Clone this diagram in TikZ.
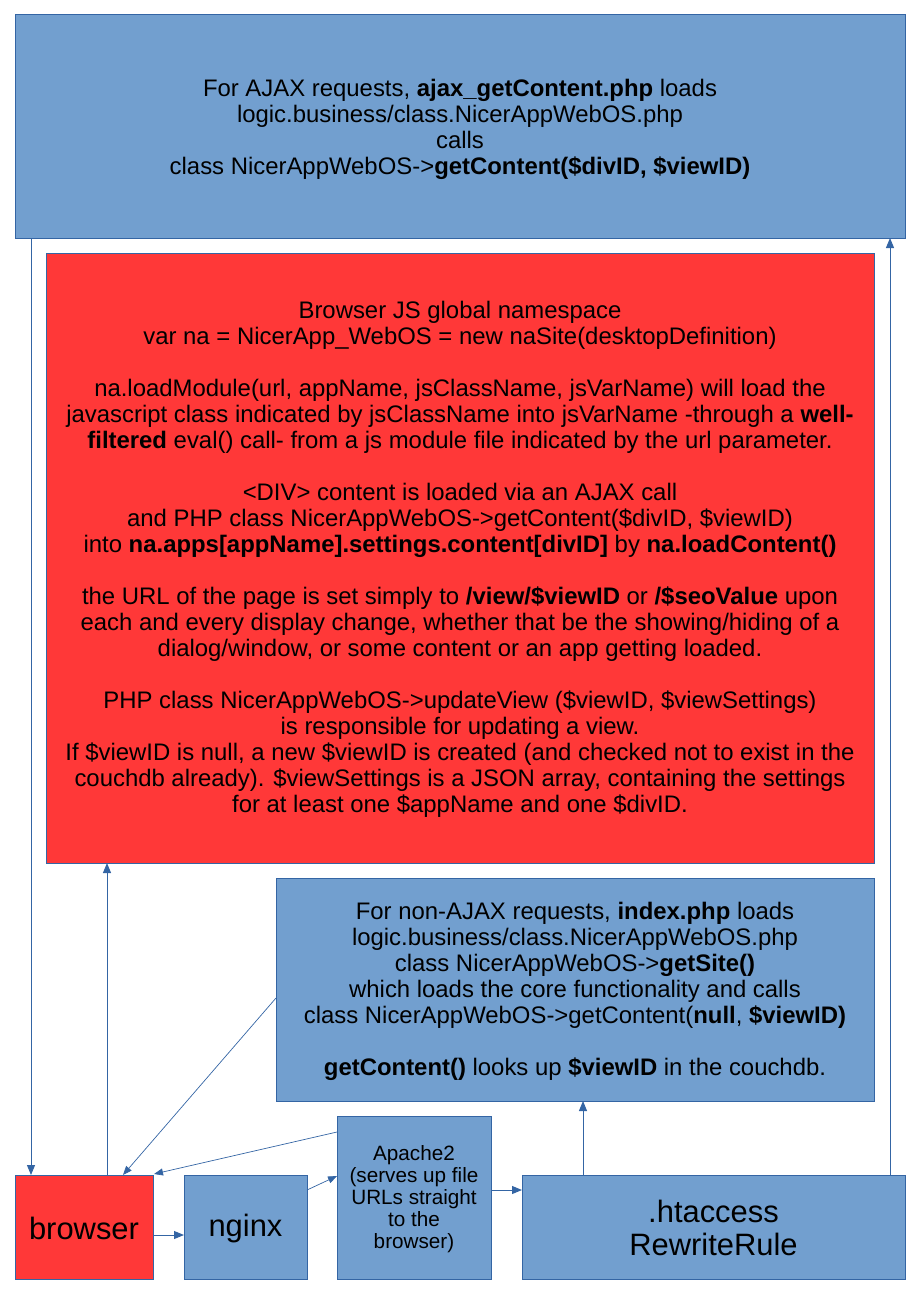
\documentclass[tikz,border=0pt]{standalone}
\usepackage{fontspec}
\setmainfont{Liberation Sans}
\usetikzlibrary{arrows.meta}
\definecolor{boxblue}{HTML}{729FCF}
\definecolor{edgeblue}{HTML}{3465A4}
\definecolor{boxred}{HTML}{FF3838}
\begin{document}
\begin{tikzpicture}[x=1pt,y=-1pt,
  bluebox/.style={draw=edgeblue,fill=boxblue,line width=1pt},
  redbox/.style={draw=edgeblue,fill=boxred,line width=1pt},
  txt/.style={align=center,inner sep=0pt,font=\fontsize{23.9}{26}\selectfont},
  bigtxt/.style={align=center,inner sep=0pt,font=\fontsize{30.9}{33}\selectfont},
  conn/.style={draw=edgeblue,line width=1pt,-{Triangle[length=10pt,width=8pt]}},
  thin/.style={draw=edgeblue,line width=0.7pt,-{Triangle[length=9pt,width=7pt]}}]
\useasboundingbox (0,0) rectangle (918,1298);
% boxes
\draw[bluebox] (15,15) rectangle (905,238);
\draw[redbox] (46,253) rectangle (874,863);
\draw[bluebox] (276,878) rectangle (874,1101);
\draw[redbox] (15,1175) rectangle (153,1279);
\draw[bluebox] (184,1175) rectangle (307,1279);
\draw[bluebox] (337,1116) rectangle (491,1279);
\draw[bluebox] (522,1175) rectangle (905,1279);
% texts
\node[txt] (ttop) at (460,129) {For AJAX requests, \textbf{ajax\_getContent.php} loads\\
logic.business/class.NicerAppWebOS.php\\
calls\\
class NicerAppWebOS->\textbf{getContent(\$divID, \$viewID)}};
\node[txt] (tred) at (460,559) {Browser JS global namespace\\
var na = NicerApp\_WebOS = new naSite(desktopDefinition)\\[26pt]
na.loadModule(url, appName, jsClassName, jsVarName) will load the\\
javascript class indicated by jsClassName into jsVarName -through a \textbf{well-}\\
\textbf{filtered} eval() call- from a js module file indicated by the url parameter.\\[26pt]
<DIV> content is loaded via an AJAX call\\
and PHP class NicerAppWebOS->getContent(\$divID, \$viewID)\\
into \textbf{na.apps[appName].settings.content[divID]} by \textbf{na.loadContent()}\\[26pt]
the URL of the page is set simply to \textbf{/view/\$viewID} or \textbf{/\$seoValue} upon\\
each and every display change, whether that be the showing/hiding of a\\
dialog/window, or some content or an app getting loaded.\\[26pt]
PHP class NicerAppWebOS->updateView (\$viewID, \$viewSettings)\\
is responsible for updating a view.\\
If \$viewID is null, a new \$viewID is created (and checked not to exist in the\\
couchdb already). \$viewSettings is a JSON array, containing the settings\\
for at least one \$appName and one \$divID.};
\node[txt] (tsite) at (575,991) {For non-AJAX requests, \textbf{index.php} loads\\
logic.business/class.NicerAppWebOS.php\\
class NicerAppWebOS->\textbf{getSite()}\\
which loads the core functionality and calls\\
class NicerAppWebOS->getContent(\textbf{null}, \textbf{\$viewID)}\\[26pt]
\textbf{getContent()} looks up \textbf{\$viewID} in the couchdb.};
\node[bigtxt] (tbrowser) at (84,1228) {browser};
\node[bigtxt] (tnginx) at (245.5,1228) {nginx};
\node[txt,font=\fontsize{20.7}{22}\selectfont] (tapache) at (414,1199) {Apache2\\(serves up file\\URLs straight\\to the\\browser)};
\node[bigtxt] (thta) at (713.5,1228) {.htaccess\\RewriteRule};
% connectors
\coordinate (a1s) at (31,238); \coordinate (a1e) at (31,1175);
\draw[conn] (a1s) -- (a1e);
\coordinate (a2s) at (107,1175); \coordinate (a2e) at (107,863);
\draw[conn] (a2s) -- (a2e);
\coordinate (a3s) at (276,998); \coordinate (a3e) at (123,1175);
\draw[thin] (a3s) -- (a3e);
\coordinate (a4s) at (337,1132); \coordinate (a4e) at (154,1174);
\draw[thin] (a4s) -- (a4e);
\coordinate (a5s) at (153,1235); \coordinate (a5e) at (184,1235);
\draw[conn] (a5s) -- (a5e);
\coordinate (a6s) at (307,1190); \coordinate (a6e) at (337,1176);
\draw[thin] (a6s) -- (a6e);
\coordinate (a7s) at (491,1190); \coordinate (a7e) at (522,1190);
\draw[conn] (a7s) -- (a7e);
\coordinate (a8s) at (583,1175); \coordinate (a8e) at (583,1101);
\draw[conn] (a8s) -- (a8e);
\coordinate (a9s) at (890,1175); \coordinate (a9e) at (890,238);
\draw[conn] (a9s) -- (a9e);
\end{tikzpicture}
\end{document}
